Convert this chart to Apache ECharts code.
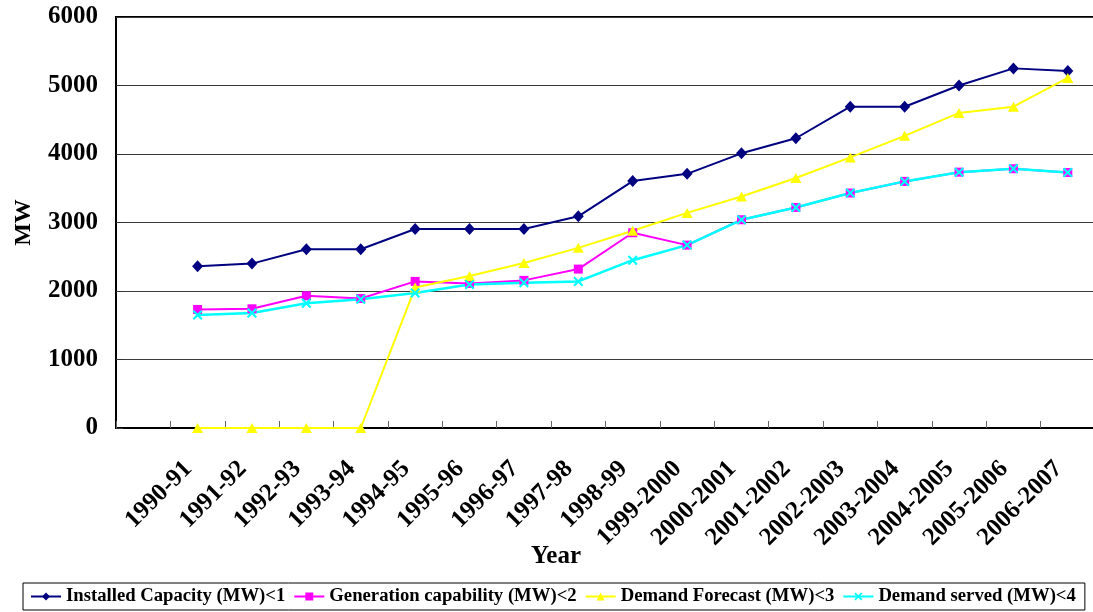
<!DOCTYPE html>
<html>
<head>
<meta charset="utf-8">
<title>Installed capacity, generation capability and demand (MW)</title>
<script src="https://cdn.jsdelivr.net/npm/echarts@6/dist/echarts.min.js"></script>
<style>
  html, body { margin: 0; padding: 0; background: #ffffff; }
  #chart { width: 1093px; height: 612px; }
</style>
</head>
<body>
<div id="chart"></div>
<script>
// Fiscal years; the leading blank slot keeps an empty first category on the axis.
const years = ['', '1990-91', '1991-92', '1992-93', '1993-94', '1994-95', '1995-96', '1996-97',
  '1997-98', '1998-99', '1999-2000', '2000-2001', '2001-2002', '2002-2003', '2003-2004',
  '2004-2005', '2005-2006', '2006-2007'];

// Values in MW, one per fiscal year (null for the blank slot)
const installedCapacity = [null, 2360, 2400, 2610, 2610, 2905, 2905, 2905, 3090, 3605, 3710,
  4010, 4230, 4690, 4690, 5000, 5250, 5210];
const generationCapability = [null, 1730, 1740, 1930, 1890, 2140, 2110, 2155, 2320, 2850, 2670,
  3040, 3220, 3430, 3600, 3735, 3785, 3730];
const demandForecast = [null, 0, 0, 0, 0, 2050, 2220, 2410, 2630, 2880, 3140,
  3380, 3650, 3950, 4265, 4600, 4690, 5110];
const demandServed = [null, 1650, 1680, 1820, 1880, 1970, 2095, 2120, 2140, 2450, 2670,
  3040, 3220, 3430, 3600, 3735, 3785, 3730];

const seriesNames = ['Installed Capacity (MW)<1', 'Generation capability (MW)<2',
  'Demand Forecast (MW)<3', 'Demand served (MW)<4'];

const yTicks = { min: 0, max: 6000, step: 1000 };

const serif = '"Liberation Serif", "Times New Roman", "DejaVu Serif", serif';
const crossPath = 'path://M0,1.5 L1.5,0 L5,3.5 L8.5,0 L10,1.5 L6.5,5 L10,8.5 L8.5,10 L5,6.5 L1.5,10 L0,8.5 L3.5,5 Z';

function lineSeries(name, data, color, symbol, size, width) {
  return {
    name: name,
    type: 'line',
    data: data,
    symbol: symbol,
    symbolSize: size,
    showAllSymbol: true,
    connectNulls: false,
    lineStyle: { color: color, width: width },
    itemStyle: { color: color, borderWidth: 0 },
    emphasis: { disabled: true },
    animation: false
  };
}

const chart = echarts.init(document.getElementById('chart'), null, { renderer: 'canvas' });

chart.setOption({
  backgroundColor: '#ffffff',
  animation: false,
  grid: {
    left: 116, top: 17, width: 979, height: 411,
    containLabel: false,
    outerBoundsMode: 'none',
    show: true, borderColor: '#000000', borderWidth: 2, backgroundColor: 'transparent'
  },
  legend: {
    left: 23, top: 583,
    width: 1066,
    itemWidth: 30, itemHeight: 10, itemGap: 8,
    padding: [4, 9, 4, 7],
    borderColor: '#000000', borderWidth: 1,
    textStyle: { fontFamily: serif, fontWeight: 'bold', fontSize: 18.7, color: '#000000' },
    data: seriesNames,
    selectedMode: false
  },
  xAxis: {
    type: 'category',
    data: years,
    boundaryGap: true,
    axisLine: { lineStyle: { color: '#000000', width: 2 } },
    axisTick: { show: true, inside: true, length: 7, interval: 0, lineStyle: { color: '#666666', width: 1 } },
    axisLabel: {
      interval: 0, rotate: 45, margin: 28,
      padding: [0, 13, 14, 0],
      fontFamily: serif, fontWeight: 'bold', fontSize: 25, color: '#000000'
    },
    splitLine: { show: false }
  },
  yAxis: {
    type: 'value',
    min: yTicks.min, max: yTicks.max, interval: yTicks.step,
    name: 'MW',
    nameLocation: 'middle',
    nameGap: 80,
    nameRotate: 90,
    nameTextStyle: { fontFamily: serif, fontWeight: 'bold', fontSize: 24, color: '#000000' },
    axisLine: { show: true, lineStyle: { color: '#000000', width: 2 } },
    axisTick: { show: true, inside: true, length: 7, lineStyle: { color: '#333333' } },
    axisLabel: {
      margin: 18, fontFamily: serif, fontWeight: 'bold', fontSize: 25, color: '#000000',
      formatter: function (v) { return String(v); }
    },
    splitLine: { show: true, lineStyle: { color: '#3a3a3a', width: 1 } }
  },
  graphic: [{
    type: 'text',
    left: 531, top: 544,
    style: { text: 'Year', fontFamily: serif, fontWeight: 'bold', fontSize: 25, fill: '#000000' }
  }],
  series: [
    lineSeries(seriesNames[0], installedCapacity, '#000080', 'diamond', [11, 12], 2),
    lineSeries(seriesNames[1], generationCapability, '#FF00FF', 'rect', 9, 2),
    lineSeries(seriesNames[2], demandForecast, '#FFFF00', 'triangle', [11, 10], 2),
    lineSeries(seriesNames[3], demandServed, '#00FFFF', crossPath, 10, 2.5)
  ]
});
</script>
</body>
</html>
